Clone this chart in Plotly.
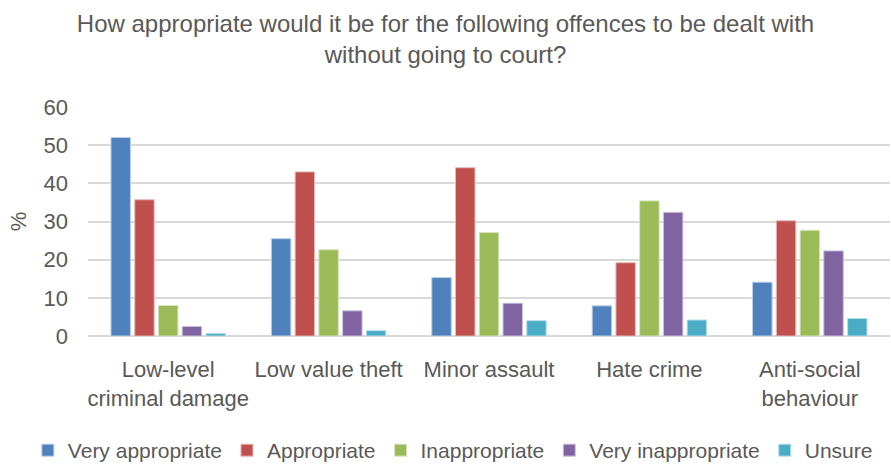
import plotly.graph_objects as go

categories = ["Low-level<br>criminal damage", "Low value theft", "Minor assault", "Hate crime", "Anti-social<br>behaviour"]
series_names = ["Very appropriate", "Appropriate", "Inappropriate", "Very inappropriate", "Unsure"]
very_appropriate = [52.0, 25.5, 15.3, 7.9, 14.1]
appropriate = [35.7, 43.0, 44.1, 19.2, 30.2]
inappropriate = [8.0, 22.6, 27.1, 35.4, 27.7]
very_inappropriate = [2.5, 6.6, 8.6, 32.4, 22.3]
unsure = [0.7, 1.4, 4.0, 4.2, 4.6]
y_ticks = [0, 10, 20, 30, 40, 50, 60]

colors = ["#4F81BD", "#C0504D", "#9BBB59", "#8064A2", "#4BACC6"]
line_colors = ["#B9CDE5", "#E6B9B8", "#D7E4BD", "#CCC1DA", "#B7DEE8"]
values = [very_appropriate, appropriate, inappropriate, very_inappropriate, unsure]

FONT = "Liberation Sans, Arial, sans-serif"

fig = go.Figure()
for name, vals, c, lc in zip(series_names, values, colors, line_colors):
    fig.add_trace(go.Bar(name=name, x=categories, y=vals,
                         marker=dict(color=c, line=dict(color=lc, width=1))))

fig.update_layout(
    width=891, height=466,
    barmode="group", bargap=0.26, bargroupgap=0.18,
    paper_bgcolor="white", plot_bgcolor="white",
    font=dict(family=FONT, color="#595959", size=22),
    title=dict(text="How appropriate would it be for the following offences to be dealt with<br>without going to court?",
               x=0.5, xanchor="center", xref="container", y=0.932, yanchor="middle", yref="container",
               font=dict(size=24, color="#595959", family=FONT)),
    margin=dict(l=88, r=1, t=107, b=130, autoexpand=False),
    yaxis=dict(range=[0, 60], tickvals=y_ticks, showgrid=True, gridcolor="#D9D9D9", gridwidth=1.5,
               zeroline=True, zerolinecolor="#D9D9D9", zerolinewidth=1.5,
               title=dict(text="%", font=dict(size=22), standoff=10),
               tickfont=dict(size=22), ticks="", showline=False, ticklabelstandoff=19),
    xaxis=dict(tickfont=dict(size=22), showline=False, ticks="", ticklabelstandoff=18),
    legend=dict(orientation="h", x=-0.075, xanchor="left", y=-0.50, yanchor="middle",
                font=dict(size=21), itemwidth=30, tracegroupgap=0, bgcolor="rgba(0,0,0,0)"),
)

fig.write_html("out.html")
